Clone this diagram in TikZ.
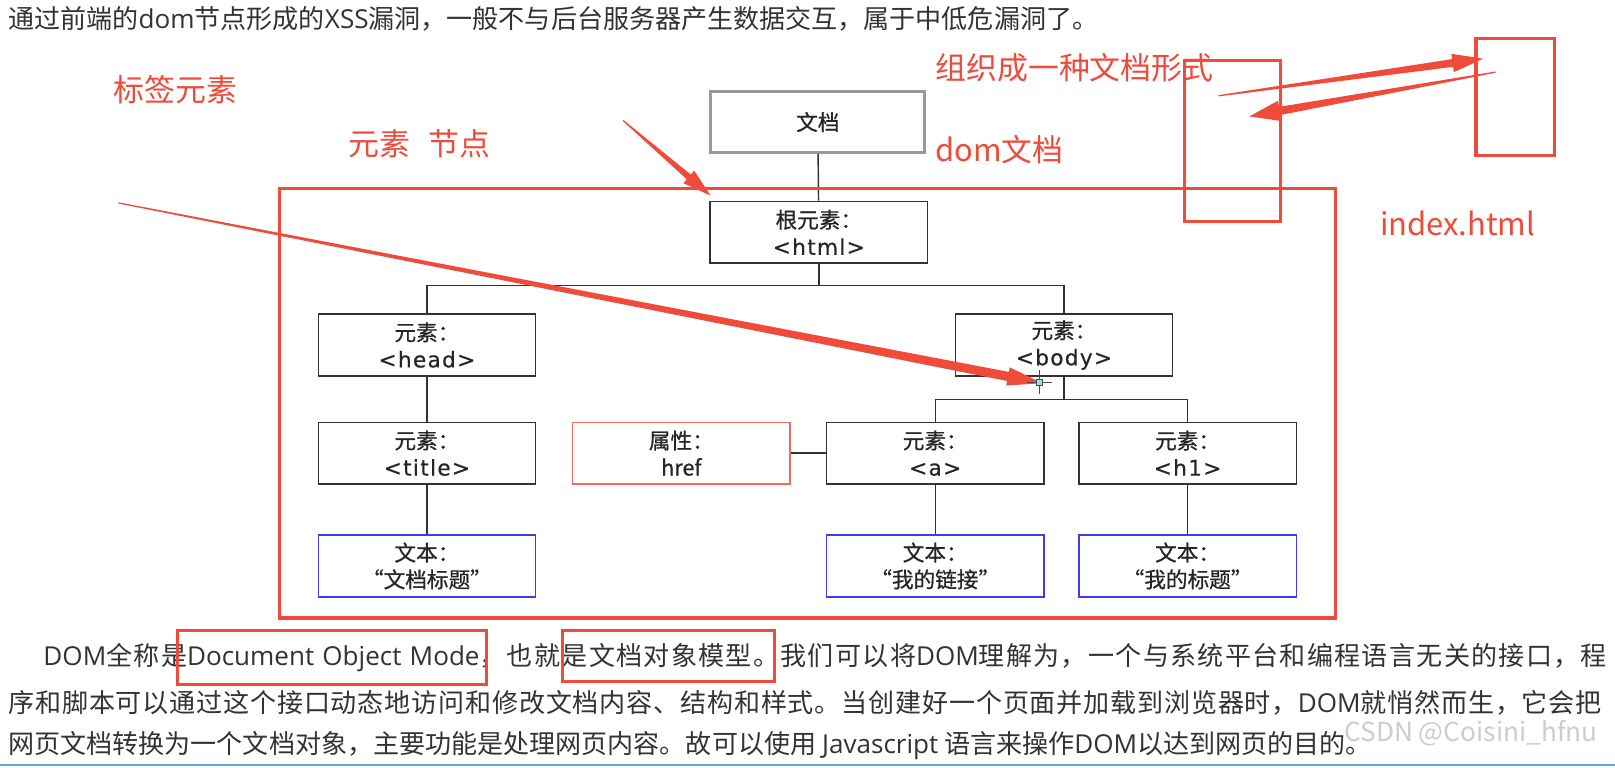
\documentclass[tikz,border=0pt]{standalone}
\usepackage{fontspec}
\setmainfont{Noto Sans CJK SC}
\newfontfamily\boxfont[FakeBold=0.7]{Noto Sans CJK SC}
\newfontfamily\tagfont[LetterSpace=6,FakeBold=0.5]{DejaVu Sans}
\newfontfamily\en{Open Sans}
\usepackage{xcolor}
\usetikzlibrary{calc}
% stretchable glue between CJK characters, for the justified lines
\newcount\cjkc
\cjkc="4E00 \loop \XeTeXcharclass\cjkc=1 \advance\cjkc 1 \ifnum\cjkc<"A000 \repeat
\cjkc="3000 \loop \XeTeXcharclass\cjkc=1 \advance\cjkc 1 \ifnum\cjkc<"3040 \repeat
\cjkc="FF00 \loop \XeTeXcharclass\cjkc=1 \advance\cjkc 1 \ifnum\cjkc<"FFF0 \repeat
\XeTeXinterchartokenstate=1
\newcommand{\cjkglue}{\hskip0pt plus 3pt\relax}
\XeTeXinterchartoks 1 1 = {\cjkglue}
\definecolor{annored}{HTML}{F04A3A}
\definecolor{bodytext}{HTML}{333333}
\definecolor{linkblue}{HTML}{3C3CF0}
\definecolor{attrred}{HTML}{F06A60}
\definecolor{wmgray}{HTML}{CDCDCD}
\definecolor{barblue}{HTML}{5AAEE6}
\newcommand{\bodysize}{\fontsize{25.3}{30}\selectfont}
% hand-drawn pen arrow: start, tip, shaft half-width, head length, head half-width
\newcommand{\penarrow}[5]{%
  \coordinate (pb) at ($(#2)!#4!(#1)$);
  \fill[annored] ($(#1)!0.6pt!90:(#2)$) -- ($(pb)!#3!-90:(#1)$) -- ($(pb)!#5!-90:(#1)$)
    -- (#2) -- ($(pb)!#5!90:(#1)$) -- ($(pb)!#3!90:(#1)$) -- ($(#1)!0.6pt!-90:(#2)$) -- cycle;}

\begin{document}
\begin{tikzpicture}[x=1pt, y=-1pt,
    elem/.style={draw=black!80, line width=1.4pt, fill=white, minimum width=211pt,
                 minimum height=60pt, inner sep=0pt, align=center,
                 font=\boxfont\fontsize{21}{26}\selectfont, text=black!85},
    docbox/.style={elem, draw=black!40, line width=3pt, minimum width=208pt, minimum height=59pt},
    attrbox/.style={elem, draw=attrred},
    textbox/.style={elem, draw=linkblue},
    link/.style={draw=black!80, line width=1.4pt},
    annobox/.style={draw=annored, line width=3pt},
    annolabel/.style={text=annored, font=\fontsize{30}{30}\selectfont, anchor=west, inner sep=0pt},
    bodyline/.style={text=bodytext, font=\bodysize, anchor=west, inner sep=0pt},
  ]

  \fill[white] (0,0) rectangle (1568,745);
  \useasboundingbox (0,0) rectangle (1568,745);

  % --- intro line ---
  \node[bodyline] (intro) at (8,18) {通过前端的{\en dom}节点形成的{\en XSS}漏洞，一般不与后台服务器产生数据交互，属于中低危漏洞了。};

  % --- DOM tree ---
  \node[docbox]   (doc)    at (794,118.5) {文档};
  \node[elem]     (root)   at (795,225.5) {根元素：\\{\tagfont <html>}};
  \node[elem]     (head)   at (414.5,335) {元素：\\{\tagfont <head>}};
  \node[elem]     (body)   at (1033,335)  {元素：\\{\tagfont <body>}};
  \node[elem]     (title)  at (414.5,440) {元素：\\{\tagfont <title>}};
  \node[attrbox]  (attr)   at (661.5,440) {属性：\\href};
  \node[elem]     (a)      at (908,440)   {元素：\\{\tagfont <a>}};
  \node[elem]     (h1)     at (1153,440)  {元素：\\{\tagfont <h1>}};
  \node[textbox]  (ttitle) at (414.5,549.5) {文本：\\“文档标题”};
  \node[textbox]  (ta)     at (908,549.5)   {文本：\\“我的链接”};
  \node[textbox]  (th1)    at (1153,549.5)  {文本：\\“我的标题”};

  \draw[link] (doc) -- (root);
  \draw[link] (root.south) -- ++(0,21) -| (head);
  \draw[link] (root.south) ++(0,21) -| (body);
  \draw[link] (body.south) -- ++(0,22) -| (a);
  \draw[link] (body.south) ++(0,22) -| (h1);
  \draw[link] (head) -- (title);
  \draw[link] (title) -- (ttitle);
  \draw[link] (a) -- (ta);
  \draw[link] (h1) -- (th1);
  \draw[link] (attr) -- (a);

  % --- paragraph ---
  \node[bodyline] (para1) at (42,638) {\hbox to 1518pt{{\en DOM}全称是{\en Document Object Mode}，也就是文档对象模型。我们可以将{\en DOM}理解为，一个与系统平台和编程语言无关的接口，程}};
  \node[bodyline] (para2) at (8,682) {\hbox to 1547pt{序和脚本可以通过这个接口动态地访问和修改文档内容、结构和样式。当创建好一个页面并加载到浏览器时，{\en DOM}就悄然而生，它会把}};
  \node[bodyline] (para3) at (8,724) {网页文档转换为一个文档对象，主要功能是处理网页内容。故可以使用 {\en Javascript} 语言来操作{\en DOM}以达到网页的目的。};
  \node[text=wmgray, font=\fontsize{25.5}{25.5}\selectfont, anchor=west, inner sep=0pt] (mark) at (1305,712) {CSDN @Coisini\_hfnu};
  \draw[barblue, line width=2pt] (0,743) -- (1568,743);

  % --- annotations ---
  \node[annolabel] (lbltag)  at (110,87)  {标签元素};
  \node[annolabel] (lblnode) at (338,140) {元素\hspace{0.6em}节点};
  \node[annolabel] (lblform) at (908,66)  {组织成一种文档形式};
  \node[annolabel] (lbldom)  at (908,145) {dom文档};
  \node[annolabel] (lblfile) at (1340,217) {index.html};

  \draw[annobox] (271,183) rectangle (1297,600);
  \draw[annobox] (1150,59) rectangle (1243,215);
  \draw[annobox] (1433,37) rectangle (1509,151);
  \draw[annobox] (172,612) rectangle (472,665);
  \draw[annobox] (546,612) rectangle (752,662);

  \coordinate (outS)  at (1183,93);
  \coordinate (outT)  at (1440,57);
  \coordinate (backS) at (1452,70);
  \coordinate (backT) at (1213,113);
  \coordinate (rootS) at (605,117);
  \coordinate (rootT) at (690,190);
  \coordinate (bodyS) at (115,197);
  \coordinate (bodyT) at (1012,372);
  \penarrow{outS}{outT}{3.8pt}{30pt}{9pt}
  \penarrow{backS}{backT}{4pt}{30pt}{10pt}
  \penarrow{rootS}{rootT}{3pt}{28pt}{8pt}
  \penarrow{bodyS}{bodyT}{4.5pt}{34pt}{9pt}

  % --- cursor ---
  \coordinate (cursor) at (1009,371);
  \draw[black!70, line width=1pt] ($(cursor)+(0,-12)$) -- ($(cursor)+(0,12)$)
    ($(cursor)+(-12,0)$) -- ($(cursor)+(12,0)$);
  \draw[black!70, fill=cyan!40, line width=0.8pt] ($(cursor)+(-3,-3)$) rectangle ($(cursor)+(3,3)$);

\end{tikzpicture}
\end{document}
